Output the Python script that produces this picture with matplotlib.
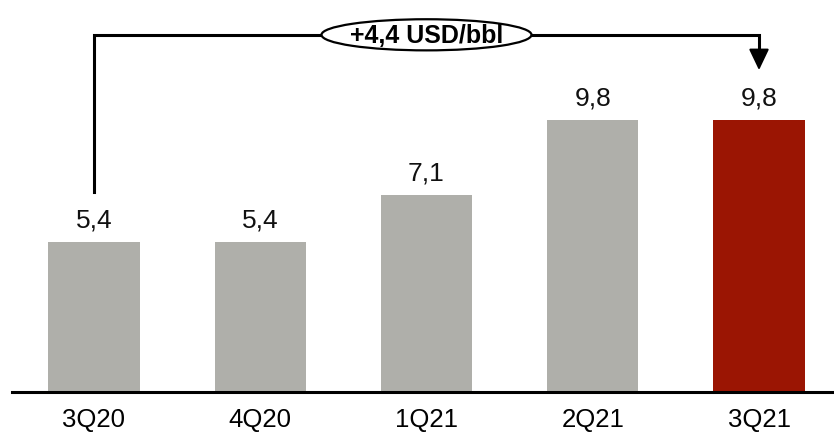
import matplotlib
matplotlib.use("Agg")
import matplotlib.pyplot as plt
from matplotlib.patches import Ellipse

categories = ["3Q20", "4Q20", "1Q21", "2Q21", "3Q21"]
values = [5.4, 5.4, 7.1, 9.8, 9.8]
value_labels = ["5,4", "5,4", "7,1", "9,8", "9,8"]
delta_label = "+4,4 USD/bbl"

plt.rcParams['font.family'] = ['Liberation Sans', 'DejaVu Sans']

W, H = 834, 435
fig = plt.figure(figsize=(W / 100, H / 100), dpi=100)
ax = fig.add_axes([12 / W, (H - 393) / H, (W - 12) / W, 390 / H])

colors = ["#AFAFAA"] * 4 + ["#9B1503"]
x = list(range(len(categories)))
ax.bar(x, values, width=0.55, color=colors, zorder=2)

for xi, v, lab in zip(x, values, value_labels):
    ax.text(xi, v + 0.56, lab, ha="center", va="baseline", fontsize=19,
            color="#111111")

ax.set_xlim(-0.493, 4.451)
ax.set_ylim(0, 14.03)
ax.set_xticks(x)
ax.set_xticklabels(categories, fontsize=18.5)
ax.tick_params(axis="x", length=0, pad=11)
ax.set_yticks([])
for s in ["top", "right", "left"]:
    ax.spines[s].set_visible(False)
ax.spines["bottom"].set_linewidth(2.2)
ax.spines["bottom"].set_color("black")

# bracket
y_top = 12.85
x0, x1 = x[0], x[-1]
ax.plot([x0, x0, x1, x1], [values[0] + 1.8, y_top, y_top, 12.2],
        color="black", lw=2.2, solid_joinstyle="miter", zorder=3)
ax.annotate("", xy=(x1, values[-1] + 1.78), xytext=(x1, 12.25),
            arrowprops=dict(arrowstyle="-|>,head_length=1.3,head_width=0.62",
                            color="black", lw=1.5, mutation_scale=10,
                            shrinkA=0, shrinkB=0), zorder=3)
ell = Ellipse((2, y_top), width=1.263, height=1.12, facecolor="white",
              edgecolor="black", lw=1.6, zorder=4)
ax.add_patch(ell)
ax.text(2, y_top, delta_label, ha="center", va="center", fontsize=18,
        fontweight="bold", zorder=5)

fig.savefig("out.png", dpi=100)
